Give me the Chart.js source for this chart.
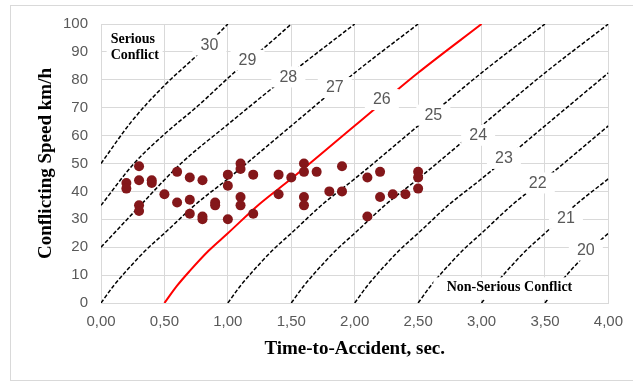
<!DOCTYPE html>
<html>
<head>
<meta charset="utf-8">
<script src="https://cdn.jsdelivr.net/npm/chart.js@4/dist/chart.umd.min.js"></script>
<style>
  body { margin: 0; background: #fff; }
  #wrap { position: relative; width: 633px; height: 382px; overflow: hidden; }
  #frame { position: absolute; left: 10px; top: 5px; width: 700px; height: 374px; border: 1px solid #d9d9d9; }
  canvas { position: absolute; left: 0; top: 0; }
</style>
</head>
<body>
<div id="wrap">
  <div id="frame"></div>
  <canvas id="chart" width="633" height="382"></canvas>
</div>
<script>
// -------- OBSERVED CONFLICTS ---------------
const ttaSec = [0.2,0.2,0.3,0.3,0.3,0.3,0.4,0.4,0.5,0.6,0.7,0.8,0.6,0.7,0.7,0.8,0.8,0.9,0.9,1.0,1.0,1.0,1.1,1.1,1.2,1.1,1.1,1.2,1.4,1.4,1.5,1.6,1.6,1.7,1.6,1.6,1.8,1.9,1.9,2.1,2.2,2.2,2.3,2.4,2.1,2.5,2.5,2.5];
const speedKmh = [43,41,49,44,35,33,44,43,39,47,45,44,36,37,32,31,30,36,35,46,42,30,50,48,46,38,35,32,46,39,45,50,47,47,38,35,40,49,40,45,47,38,39,39,31,47,45,41];

// -------- SEVERITY CURVES --------------------------------------
const curve30X = [0, 0.24, 0.5, 0.75, 1.0];
const curve30Y = [50, 65, 78, 88.5, 100];
const curve29X = [0, 0.26, 0.5, 0.76, 1.06, 1.3, 1.5];
const curve29Y = [35, 50, 60.5, 70.5, 83, 92, 100];
const curve28X = [0, 0.3, 0.63, 1.0, 1.35, 1.6, 2.0];
const curve28Y = [20, 34.5, 50, 64, 77, 86, 100];
const curve27X = [0, 0.1, 0.2, 0.35, 0.5, 0.75, 1.0, 1.5, 2.0, 2.5];
const curve27Y = [0, 6.2, 11.5, 18.8, 25, 35.5, 44.5, 63.5, 82.5, 100];
const curve26X = [0.5, 0.6, 0.7, 0.85, 1.0, 1.25, 1.5, 2.0, 2.5, 3.0];
const curve26Y = [0, 6.2, 11.5, 18.8, 25, 35.5, 44.5, 63.5, 82.5, 100];
const curve25X = [1.0, 1.1, 1.2, 1.35, 1.5, 1.75, 2.0, 2.5, 3.0, 3.5];
const curve25Y = [0, 6.2, 11.5, 18.8, 25, 35.5, 44.5, 63.5, 82.5, 100];
const curve24X = [1.5, 1.6, 1.7, 1.85, 2.0, 2.25, 2.5, 3.0, 3.5, 4.0];
const curve24Y = [0, 6.2, 11.5, 18.8, 25, 35.5, 44.5, 63.5, 82.5, 100];
const curve23X = [2.0, 2.1, 2.2, 2.35, 2.5, 2.75, 3.0, 3.5, 4.0];
const curve23Y = [0, 6.2, 11.5, 18.8, 25, 35.5, 44.5, 63.5, 82.5];
const curve22X = [2.5, 2.6, 2.7, 2.85, 3.0, 3.25, 3.5, 4.0];
const curve22Y = [0, 6.2, 11.5, 18.8, 25, 35.5, 44.5, 63.5];
const curve21X = [3.0, 3.1, 3.2, 3.35, 3.5, 3.75, 4.0];
const curve21Y = [0, 6.2, 11.5, 18.8, 25, 35.5, 44.5];
const curve20X = [3.5, 3.6, 3.7, 3.85, 4.0];
const curve20Y = [0, 6.2, 11.5, 18.8, 25];

// -------- CURVE LABELS ---------------
const curveNames = ['30', '29', '28', '27', '26', '25', '24', '23', '22', '21', '20'];
const labelX = [0.855, 1.155, 1.477, 1.843, 2.214, 2.62, 2.973, 3.176, 3.443, 3.665, 3.822];
const labelY = [92.6, 87.2, 81.2, 77.4, 73.1, 67.5, 60.3, 52, 43.2, 30.5, 19.1];

const gray = '#595959';
const gridGray = '#d9d9d9';

function pts(xs, ys){
    return xs.map((x, i) => ({x: x, y: ys[i]}));
}

function curve(xs, ys, color, dashed){
    return {
        data: pts(xs, ys),
        showLine: true,
        borderColor: color,
        borderWidth: dashed ? 1.5 : 2,
        borderDash: dashed ? [4, 2] : [],
        pointRadius: 0,
        cubicInterpolationMode: 'monotone',
        fill: false
    };
}

// ------------ LABEL BOXES AND ZONE TEXTS -----------------
const labelPlugin = {
    id: 'curveLabels',
    afterDatasetsDraw(chart){
        const ctx = chart.ctx;
        const xs = chart.scales.x, ys = chart.scales.y;
        ctx.save();
        ctx.font = '16px "Liberation Sans", Arial, sans-serif';
        ctx.textAlign = 'center';
        ctx.textBaseline = 'middle';
        curveNames.forEach((name, i) => {
            const px = xs.getPixelForValue(labelX[i]);
            const py = ys.getPixelForValue(labelY[i]);
            ctx.fillStyle = '#ffffff';
            ctx.fillRect(px - 17, py - 10, 34, 21);
            ctx.fillStyle = gray;
            ctx.fillText(name, px, py + 1);
        });

        // Serious Conflict
        ctx.font = 'bold 14px "Liberation Serif", "Times New Roman", serif';
        ctx.textAlign = 'left';
        let sx = xs.getPixelForValue(0.076);
        let sy = ys.getPixelForValue(94.4);
        ctx.fillStyle = '#ffffff';
        ctx.fillRect(sx - 4, sy - 11, 56, 35);
        ctx.fillStyle = '#000000';
        ctx.fillText('Serious', sx, sy);
        ctx.fillText('Conflict', sx, sy + 16);

        // Non-Serious Conflict
        const bx0 = xs.getPixelForValue(2.62), bx1 = xs.getPixelForValue(3.985);
        const by0 = ys.getPixelForValue(9.2), by1 = ys.getPixelForValue(1.2);
        ctx.fillStyle = '#ffffff';
        ctx.fillRect(bx0, by0, bx1 - bx0, by1 - by0);
        ctx.fillStyle = '#000000';
        ctx.textAlign = 'center';
        ctx.fillText('Non-Serious Conflict', xs.getPixelForValue(3.22), ys.getPixelForValue(5.66));
        ctx.restore();
    }
};

new Chart(document.getElementById('chart'), {
    type: 'scatter',
    data: {
        datasets: [
            {
                data: pts(ttaSec, speedKmh),
                backgroundColor: '#84171a',
                borderWidth: 0,
                pointRadius: 5,
                pointHoverRadius: 5
            },
            curve(curve30X, curve30Y, '#000000', true),
            curve(curve29X, curve29Y, '#000000', true),
            curve(curve28X, curve28Y, '#000000', true),
            curve(curve27X, curve27Y, '#000000', true),
            curve(curve26X, curve26Y, '#ff0000', false),
            curve(curve25X, curve25Y, '#000000', true),
            curve(curve24X, curve24Y, '#000000', true),
            curve(curve23X, curve23Y, '#000000', true),
            curve(curve22X, curve22Y, '#000000', true),
            curve(curve21X, curve21Y, '#000000', true),
            curve(curve20X, curve20Y, '#000000', true)
        ]
    },
    options: {
        responsive: false,
        animation: false,
        layout: { padding: { left: 20, right: 22, top: 24, bottom: 22 } },
        plugins: {
            legend: { display: false },
            tooltip: { enabled: false }
        },
        scales: {
            x: {
                type: 'linear',
                min: 0,
                max: 4,
                afterFit: (s) => { s.height = 57; },
                grid: { color: gridGray, drawTicks: false },
                border: { color: gridGray },
                ticks: {
                    stepSize: 0.5,
                    padding: 10,
                    color: gray,
                    font: { size: 15, family: '"Liberation Sans", Arial, sans-serif' },
                    callback: (v) => v.toFixed(2).replace('.', ',')
                },
                title: {
                    display: true,
                    text: 'Time-to-Accident, sec.',
                    color: '#000000',
                    padding: { top: 0, bottom: 0 },
                    font: { size: 19, weight: 'bold', family: '"Liberation Serif", "Times New Roman", serif' }
                }
            },
            y: {
                min: 0,
                max: 100,
                afterFit: (s) => { s.width = 81; },
                grid: { color: gridGray, drawTicks: false },
                border: { color: gridGray },
                ticks: {
                    stepSize: 10,
                    padding: 13,
                    color: gray,
                    font: { size: 15, family: '"Liberation Sans", Arial, sans-serif' }
                },
                title: {
                    display: true,
                    text: 'Conflicting Speed km/h',
                    color: '#000000',
                    padding: { top: 15, bottom: 0 },
                    font: { size: 19, weight: 'bold', family: '"Liberation Serif", "Times New Roman", serif' }
                }
            }
        }
    },
    plugins: [labelPlugin]
});
</script>
</body>
</html>
